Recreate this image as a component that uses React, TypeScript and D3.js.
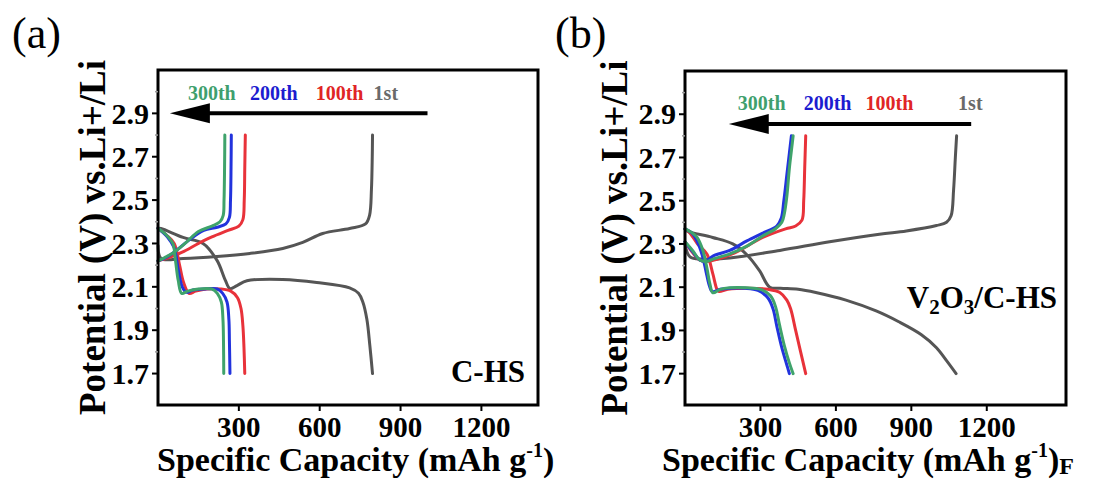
import React from 'react';
import * as d3 from 'd3';

type Pt = [number, number];

// ---- panel (a) C-HS : [capacity mAh/g, potential V]
const aGrayDis: Pt[] = [[0, 2.37], [11, 2.369], [93, 2.328], [167, 2.30], [219, 2.222], [250, 2.13], [267, 2.092], [293, 2.106], [330, 2.128], [463, 2.134], [589, 2.12], [711, 2.095], [744, 2.07], [760, 2.03], [775, 1.95], [786, 1.83], [796, 1.70]];
const aGrayChg: Pt[] = [[0, 2.29], [12, 2.23], [93, 2.231], [219, 2.24], [341, 2.254], [463, 2.277], [537, 2.305], [611, 2.346], [711, 2.369], [770, 2.39], [785, 2.43], [792, 2.55], [795, 2.7], [796, 2.8]];
const aRedDis: Pt[] = [[0, 2.37], [30, 2.34], [60, 2.3], [80, 2.2], [95, 2.12], [115, 2.07], [140, 2.08], [180, 2.09], [230, 2.09], [270, 2.08], [295, 2.05], [308, 2.0], [315, 1.92], [319, 1.82], [322, 1.70]];
const aRedChg: Pt[] = [[0, 2.22], [40, 2.235], [90, 2.26], [150, 2.3], [200, 2.33], [260, 2.36], [300, 2.38], [315, 2.41], [320, 2.5], [322, 2.65], [324, 2.8]];
const aBlueDis: Pt[] = [[0, 2.37], [35, 2.33], [60, 2.28], [75, 2.18], [90, 2.10], [105, 2.075], [130, 2.085], [170, 2.09], [220, 2.09], [240, 2.07], [256, 2.03], [263, 1.95], [265, 1.85], [267, 1.70]];
const aBlueChg: Pt[] = [[0, 2.22], [30, 2.235], [70, 2.27], [120, 2.32], [170, 2.36], [220, 2.375], [252, 2.39], [265, 2.42], [269, 2.5], [271, 2.65], [272, 2.8]];
const aGreenDis: Pt[] = [[0, 2.37], [30, 2.34], [55, 2.30], [65, 2.22], [75, 2.13], [88, 2.07], [110, 2.08], [150, 2.09], [200, 2.09], [220, 2.07], [235, 2.03], [241, 1.95], [243, 1.85], [244, 1.70]];
const aGreenChg: Pt[] = [[0, 2.22], [25, 2.235], [60, 2.26], [100, 2.30], [150, 2.355], [200, 2.38], [230, 2.40], [242, 2.43], [245, 2.5], [247, 2.65], [248, 2.8]];

// ---- panel (b) V2O3/C-HS
const bGrayDis: Pt[] = [[0, 2.37], [8, 2.36], [110, 2.33], [190, 2.30], [246, 2.25], [297, 2.175], [337, 2.10], [380, 2.095], [450, 2.09], [520, 2.075], [640, 2.04], [760, 1.99], [850, 1.94], [940, 1.88], [1000, 1.82], [1040, 1.76], [1078, 1.70]];
const bGrayChg: Pt[] = [[0, 2.30], [20, 2.24], [71, 2.23], [178, 2.235], [377, 2.27], [575, 2.31], [773, 2.345], [880, 2.36], [1000, 2.385], [1040, 2.40], [1058, 2.43], [1068, 2.55], [1075, 2.7], [1080, 2.8]];
const bRedDis: Pt[] = [[0, 2.37], [20, 2.35], [50, 2.30], [87, 2.254], [111, 2.16], [127, 2.09], [135, 2.08], [170, 2.09], [250, 2.095], [330, 2.09], [377, 2.075], [405, 2.04], [420, 2.0], [440, 1.9], [460, 1.8], [480, 1.70]];
const bRedChg: Pt[] = [[0, 2.31], [30, 2.26], [60, 2.225], [90, 2.22], [130, 2.23], [200, 2.26], [309, 2.33], [400, 2.37], [440, 2.383], [465, 2.41], [472, 2.5], [476, 2.65], [480, 2.8]];
const bBlueDis: Pt[] = [[0, 2.37], [28, 2.35], [45, 2.32], [68, 2.25], [84, 2.17], [96, 2.11], [108, 2.08], [140, 2.09], [178, 2.095], [240, 2.095], [290, 2.085], [330, 2.05], [350, 2.0], [365, 1.92], [385, 1.82], [405, 1.74], [415, 1.70]];
const bBlueChg: Pt[] = [[0, 2.31], [30, 2.265], [60, 2.225], [80, 2.22], [111, 2.244], [178, 2.27], [246, 2.314], [309, 2.35], [365, 2.383], [383, 2.42], [393, 2.5], [405, 2.62], [415, 2.72], [423, 2.80]];
const bGreenDis: Pt[] = [[0, 2.37], [30, 2.35], [48, 2.33], [71, 2.27], [87, 2.19], [99, 2.115], [111, 2.074], [140, 2.09], [178, 2.097], [246, 2.097], [300, 2.09], [340, 2.06], [360, 2.01], [375, 1.93], [395, 1.83], [415, 1.75], [430, 1.70]];
const bGreenChg: Pt[] = [[0, 2.31], [30, 2.27], [60, 2.225], [90, 2.22], [111, 2.23], [178, 2.254], [246, 2.29], [309, 2.337], [360, 2.37], [385, 2.40], [395, 2.44], [405, 2.52], [415, 2.65], [425, 2.75], [430, 2.80]];

const cycleLabels = ['300th', '200th', '100th', '1st'];
const cycleColors = ['#3fa36b', '#2233dd', '#e8323a', '#555555'];
const labelColors = ['#3f9f6e', '#1c1ccf', '#e02525', '#6a6a6a'];
const yTicks = [1.7, 1.9, 2.1, 2.3, 2.5, 2.7, 2.9];
const yMinor = [1.8, 2.0, 2.2, 2.4, 2.6, 2.8, 3.0];
const xTicks = [300, 600, 900, 1200];

const FONT = '"Liberation Serif", "Times New Roman", serif';

interface PanelProps {
  tag: string; tagX: number;
  x0: number; x1: number; y0: number; y1: number;
  xMax: number;
  series: Pt[][][]; // per cycle [discharge, charge], order green, blue, red, gray
  legendX: number[]; legendY: number;
  arrow: [number, number, number];
  sample: React.ReactNode;
  yTitleX: number;
  xTitleX: number;
  suffix?: string;
}

const Panel: React.FC<PanelProps> = ({ tag, tagX, x0, x1, y0, y1, xMax, series, legendX, legendY, arrow, sample, yTitleX, xTitleX, suffix }) => {
  const x = d3.scaleLinear().domain([0, xMax]).range([x0, x1]);
  const y = d3.scaleLinear().domain([1.555, 3.1]).range([y1, y0]);
  const line = d3.line<Pt>().x(d => x(d[0])).y(d => y(d[1])).curve(d3.curveCatmullRom.alpha(0.5));
  const ay = y(arrow[2]);
  return (
    <g>
      <text x={tagX} y={48} fontFamily={FONT} fontSize={44}>{tag}</text>
      {/* curves, gray underneath */}
      {[3, 2, 1, 0].map(i => series[i].map((s, j) => (
        <path key={`${i}-${j}`} d={line(s) || ''} fill="none" stroke={cycleColors[i]} strokeWidth={3} strokeLinejoin="round" strokeLinecap="round" />
      )))}
      <rect x={x0} y={y0} width={x1 - x0} height={y1 - y0} fill="none" stroke="#000" strokeWidth={3} />
      {yTicks.map(t => (
        <g key={t}>
          <line x1={x0 - 6} x2={x0} y1={y(t)} y2={y(t)} stroke="#000" strokeWidth={2} />
          <text x={x0 - 9} y={y(t)} dy="0.34em" textAnchor="end" fontFamily={FONT} fontWeight="bold" fontSize={30}>{t.toFixed(1)}</text>
        </g>
      ))}
      {yMinor.map(t => (
        <line key={t} x1={x0 - 3} x2={x0} y1={y(t)} y2={y(t)} stroke="#999" strokeWidth={1.5} />
      ))}
      {xTicks.map(t => (
        <g key={t}>
          <line x1={x(t)} x2={x(t)} y1={y1} y2={y1 + 6} stroke="#000" strokeWidth={2} />
          <text x={x(t)} y={y1 + 32} textAnchor="middle" fontFamily={FONT} fontWeight="bold" fontSize={29}>{t}</text>
        </g>
      ))}
      {/* legend and arrow */}
      {cycleLabels.map((l, i) => (
        <text key={l} x={x(legendX[i])} y={y(legendY)} fill={labelColors[i]} fontFamily={FONT} fontWeight="bold" fontSize={20}>{l}</text>
      ))}
      <line x1={x(arrow[0])} x2={x(arrow[1]) + 30} y1={ay} y2={ay} stroke="#000" strokeWidth={4} />
      <path d={`M${x(arrow[1])},${ay} L${x(arrow[1]) + 40},${ay - 10} L${x(arrow[1]) + 40},${ay + 10} Z`} fill="#000" />
      {sample}
      {/* axis titles */}
      <text transform={`translate(${yTitleX},${(y0 + y1) / 2}) rotate(-90)`} textAnchor="middle" fontFamily={FONT} fontWeight="bold" fontSize={37}>Potential (V) vs.Li+/Li</text>
      <text x={xTitleX} y={471} fontFamily={FONT} fontWeight="bold" fontSize={34}>
        Specific Capacity (mAh g<tspan fontSize={20} dy={-14}>-1</tspan><tspan dy={14}>)</tspan>
        {suffix ? <tspan fontSize={24} dy={3}>{suffix}</tspan> : null}
      </text>
    </g>
  );
};

const App: React.FC = () => {
  return (
    <div style={{ position: 'absolute', left: 0, top: 0 }}>
      <svg width={1116} height={479} style={{ display: 'block', background: '#fff' }}>
        <Panel
          tag="(a)" tagX={12} x0={158} x1={538} y0={70} y1={405} xMax={1410}
          series={[[aGreenDis, aGreenChg], [aBlueDis, aBlueChg], [aRedDis, aRedChg], [aGrayDis, aGrayChg]]}
          legendX={[111, 341, 585, 800]} legendY={2.96} arrow={[1000, 44, 2.9]}
          sample={<text x={525} y={382} textAnchor="end" fontFamily={FONT} fontWeight="bold" fontSize={31}>C-HS</text>}
          yTitleX={105} xTitleX={157}
        />
        <Panel
          tag="(b)" tagX={555} x0={685} x1={1066} y0={71} y1={405} xMax={1515}
          series={[[bGreenDis, bGreenChg], [bBlueDis, bBlueChg], [bRedDis, bRedChg], [bGrayDis, bGrayChg]]}
          legendX={[210, 472, 718, 1086]} legendY={2.918} arrow={[1138, 174, 2.855]}
          sample={<text x={1057} y={308} textAnchor="end" fontFamily={FONT} fontWeight="bold" fontSize={31}>V<tspan fontSize={21} dy={6}>2</tspan><tspan dy={-6}>O</tspan><tspan fontSize={21} dy={6}>3</tspan><tspan dy={-6}>/C-HS</tspan></text>}
          yTitleX={627} xTitleX={662}
          suffix="F"
        />
      </svg>
    </div>
  );
};

export default App;
